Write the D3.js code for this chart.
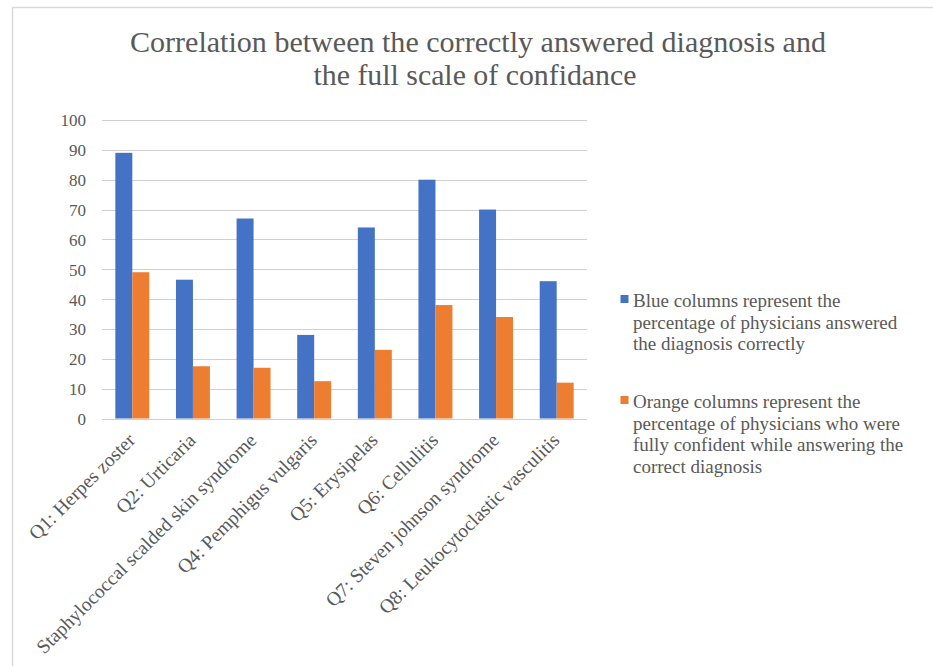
<!DOCTYPE html>
<html>
<head>
<meta charset="utf-8">
<script src="https://cdn.jsdelivr.net/npm/d3@7"></script>
<style>
  html, body { margin: 0; padding: 0; background: #fff; }
  svg { display: block; }
</style>
</head>
<body>
<svg id="chart" width="933" height="666"></svg>
<script>
// Questions (x categories)
const categories = [
  "Q1: Herpes zoster",
  "Q2: Urticaria",
  "Staphylococcal scalded skin syndrome",
  "Q4: Pemphigus vulgaris",
  "Q5: Erysipelas",
  "Q6: Cellulitis",
  "Q7: Steven johnson syndrome",
  "Q8: Leukocytoclastic vasculitis"
];
// Percentage of physicians who answered correctly
const correctValues = [89, 46.5, 67, 28, 64, 80, 70, 46];
// Percentage of physicians fully confident with a correct answer
const confidentValues = [49, 17.5, 17, 12.5, 23, 38, 34, 12];
const yTicks = [0, 10, 20, 30, 40, 50, 60, 70, 80, 90, 100];
const seriesNames = [
  ["Blue columns represent the", "percentage of physicians answered", "the diagnosis correctly"],
  ["Orange columns represent the", "percentage of physicians who were", "fully confident while answering the", "correct diagnosis"]
];
const seriesColors = ["#4472C4", "#ED7D31"];
const titleLines = [
  "Correlation between the correctly  answered diagnosis  and",
  "the full scale of confidance"
];

const FONT = "'Liberation Serif', 'Times New Roman', serif";
const INK = "#595959";

const svg = d3.select("#chart");

// chart frame
svg.append("rect")
  .attr("x", 12.5).attr("y", 7.5)
  .attr("width", 940).attr("height", 680)
  .attr("fill", "none").attr("stroke", "#d9d9d9").attr("stroke-width", 1.5);

// title
const titleLen = [696, 323];
const titleX = [478, 475];
const titleY = [52, 85];
titleLines.forEach((t, i) => {
  svg.append("text")
    .attr("x", titleX[i]).attr("y", titleY[i])
    .attr("text-anchor", "middle")
    .style("font-family", FONT)
    .style("font-size", "29px")
    .style("fill", INK)
    .attr("textLength", titleLen[i])
    .attr("lengthAdjust", "spacingAndGlyphs")
    .text(t);
});

const plot = { left: 102, right: 587, top: 120, bottom: 418.5 };

const x = d3.scaleBand()
  .domain(categories)
  .range([plot.left, plot.right])
  .paddingInner(0.44).paddingOuter(0.22);

const sub = d3.scaleBand().domain([0, 1]).range([0, x.bandwidth()]);

const y = d3.scaleLinear().domain([0, 100]).range([plot.bottom, plot.top]);

// gridlines
svg.append("g")
  .selectAll("line")
  .data(yTicks)
  .join("line")
  .attr("x1", plot.left).attr("x2", plot.right)
  .attr("y1", d => Math.round(y(d)) + 0.5).attr("y2", d => Math.round(y(d)) + 0.5)
  .attr("stroke", "#d0d0d0").attr("stroke-width", 1.2);

// y axis labels
const yAxis = d3.axisLeft(y).tickValues(yTicks).tickSize(0).tickPadding(0);
const yg = svg.append("g").attr("transform", `translate(${plot.left - 16},0)`).call(yAxis);
yg.select(".domain").remove();
yg.selectAll("text")
  .style("font-family", FONT)
  .style("font-size", "17px")
  .style("fill", INK)
  .attr("dy", "0.35em");

// bars
const seriesData = [correctValues, confidentValues];
seriesData.forEach((vals, si) => {
  svg.append("g")
    .selectAll("rect")
    .data(vals)
    .join("rect")
    .attr("x", (d, i) => x(categories[i]) + sub(si))
    .attr("width", sub.bandwidth())
    .attr("y", d => y(d))
    .attr("height", d => y(0) - y(d))
    .attr("fill", seriesColors[si]);
});

// x labels, rotated
const xg = svg.append("g");
categories.forEach(c => {
  const cx = x(c) + x.bandwidth() / 2 + 4;
  const cy = plot.bottom + 23;
  xg.append("text")
    .attr("transform", `translate(${cx},${cy}) rotate(-45)`)
    .attr("text-anchor", "end")
    .style("font-family", FONT)
    .style("font-size", "19.5px")
    .style("fill", INK)
    .text(c);
});

// legend
const legendTop = [307, 408];
seriesNames.forEach((lines, si) => {
  svg.append("rect")
    .attr("x", 620.5).attr("y", legendTop[si] - 12)
    .attr("width", 8).attr("height", 8)
    .attr("fill", seriesColors[si]);
  lines.forEach((ln, li) => {
    svg.append("text")
      .attr("x", 633).attr("y", legendTop[si] + li * 21.7)
      .style("font-family", FONT)
      .style("font-size", "19px")
      .style("fill", INK)
      .text(ln);
  });
});
</script>
</body>
</html>
